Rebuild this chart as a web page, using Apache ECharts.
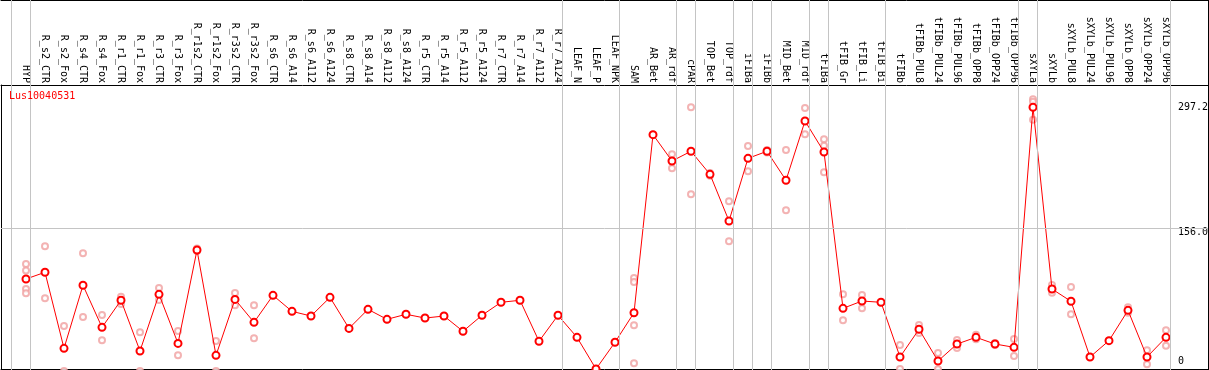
<!DOCTYPE html>
<html>
<head>
<meta charset="utf-8">
<script src="https://cdn.jsdelivr.net/npm/echarts@6.0.0/dist/echarts.min.js"></script>
<style>
  html, body { margin: 0; padding: 0; background: #fff; }
  #chart { width: 1209px; height: 370px; }
</style>
</head>
<body>
<div id="chart"></div>
<script>
const categories = [
  'HYP','R_s2_CTR','R_s2_Fox','R_s4_CTR','R_s4_Fox','R_r1_CTR','R_r1_Fox','R_r3_CTR','R_r3_Fox',
  'R_r1s2_CTR','R_r1s2_Fox','R_r3s2_CTR','R_r3s2_Fox','R_s6_CTR','R_s6_A14','R_s6_A112','R_s6_A124',
  'R_s8_CTR','R_s8_A14','R_s8_A112','R_s8_A124','R_r5_CTR','R_r5_A14','R_r5_A112','R_r5_A124',
  'R_r7_CTR','R_r7_A14','R_r7_A112','R_r7_A124','LEAF_N','LEAF_P','LEAF_NPK','SAM','AR_Bet','AR_rdf',
  'cPAR','TOP_Bet','TOP_rdf','iFIBa','iFIBb','MID_Bet','MID_rdf','tFIBa','tFIB_Gr','tFIB_Li','tFIB_Bi',
  'tFIBb','tFIBb_PUL8','tFIBb_PUL24','tFIBb_PUL96','tFIBb_OPP8','tFIBb_OPP24','tFIBb_OPP96',
  'sXYLa','sXYLb','sXYLb_PUL8','sXYLb_PUL24','sXYLb_PUL96','sXYLb_OPP8','sXYLb_OPP24','sXYLb_OPP96'
];

const meanValues = [
  100.6, 107.9, 24.8, 93.7, 47.7, 77.3, 21.9, 83.8, 30.2,
  132.3, 17.1, 78.3, 53.2, 82.7, 65.2, 60.1, 80.5,
  46.6, 67.4, 56.5, 62.0, 57.9, 60.1, 43.4, 60.9,
  75.1, 77.3, 32.5, 60.9, 36.8, 2.2, 31.4, 63.7, 258.4, 229.6,
  240.2, 215.0, 164.0, 232.5, 240.2, 208.5, 273.3, 239.4, 68.5, 76.5, 75.1,
  15.3, 45.6, 10.9, 29.5, 36.8, 29.5, 25.9,
  288.3, 89.6, 76.2, 15.3, 33.2, 66.3, 15.3, 36.8
];

const replicateValues = [
  [117, 110, 89.6, 84.9], [136.3, 79.5], [49.2, 0], [128.6, 59], [61.2, 33.5], [81.3, 73.2], [42.3, 0], [90.7, 77.6], [43.7, 17.1],
  [133.9, 131.2], [32.8, 0], [85.3, 71.8], [71.8, 35.7], [82.7], [65.2], [60.1], [80.5],
  [46.6], [67.4], [56.5], [62.0], [57.9], [60.1], [43.4], [60.9],
  [75.1], [77.3], [32.5], [60.9], [36.8], [2.2], [31.4], [101.7, 97.3, 50, 8.4], [258.4], [236.9, 221.6],
  [288.3, 193.2], [216.5, 213.5], [185.5, 141.8], [246, 218.3], [241.5, 239], [241.6, 175.7], [287.5, 258.8], [253.3, 246.3, 217.2], [83.8, 55.4], [83.1, 68.5], [75.1],
  [28.4, 2.2], [50.3, 41.5], [19.7, 2], [33.9, 25.1], [39.7, 34.7], [30.5, 28.5], [35, 16.4],
  [297.2, 294.4, 274.7], [94, 85.6], [91.8, 62], [15.3], [33.2], [69.6, 63.7], [22.6, 7.3], [44.5, 27.7]
];

const yLabelValues = [0, 156, 297.2];
const gridLineValue = 156;
const separatorAfter = [-1, 0, 28, 31, 34, 35, 37, 38, 39, 41, 42, 45, 52, 53, 60];

const xMin = -1.3158, xMax = 62.2105, yMax = 405.6;
const FONT = 'DejaVu Sans Mono';

const meanData = meanValues.map((v, i) => [i, v]);
const repData = [];
replicateValues.forEach((arr, i) => arr.forEach(v => repData.push([i, v])));

function frameX(pos, offset) {
  return {
    type: 'value', gridIndex: 0, position: pos, offset: offset, min: xMin, max: xMax,
    axisLine: { show: true, onZero: false, lineStyle: { color: '#000', width: 1 } },
    axisTick: { show: false }, axisLabel: { show: false }, splitLine: { show: false }
  };
}
function labelY(value, vAlign, lineHeight, showLine) {
  return {
    type: 'value', gridIndex: 0, position: 'right', min: 0, max: yMax,
    axisLine: { show: showLine, onZero: false, lineStyle: { color: '#000', width: 1 } },
    axisTick: { show: false }, splitLine: { show: false },
    axisLabel: {
      inside: true, align: 'left', margin: 30, verticalAlign: vAlign, lineHeight: lineHeight,
      customValues: [value],
      formatter: v => (v === 0 ? '0' : v.toFixed(1)),
      fontSize: 10, color: '#000', fontFamily: FONT
    }
  };
}

const chart = echarts.init(document.getElementById('chart'), null, { renderer: 'canvas' });
chart.setOption({
  animation: false,
  backgroundColor: '#fff',
  textStyle: { fontFamily: FONT },
  title: {
    text: 'Lus10040531', left: 9, top: 91, padding: 0,
    textStyle: { color: '#ff0000', fontSize: 10, fontWeight: 'normal', fontFamily: FONT }
  },
  grid: [
    { left: 1, right: 1, top: 0, bottom: -1, containLabel: false, outerBoundsMode: 'none' },
    { left: 1, right: 1, top: 85, bottom: 1, containLabel: false, outerBoundsMode: 'none' }
  ],
  xAxis: [
    {
      type: 'value', gridIndex: 0, position: 'top', offset: -85, min: xMin, max: xMax,
      axisLine: { show: true, onZero: false, lineStyle: { color: '#000', width: 1 } },
      axisTick: { show: false }, splitLine: { show: false },
      axisLabel: {
        customValues: categories.map((c, i) => i),
        formatter: v => categories[Math.round(v)],
        rotate: 90, margin: 2, fontSize: 10, color: '#000', fontFamily: FONT
      }
    },
    frameX('top', 0),
    frameX('bottom', -2),
    {
      type: 'value', gridIndex: 1, min: 0, max: 1, show: false
    }
  ],
  yAxis: [
    labelY(yLabelValues[1], 'top', 8, true),
    labelY(yLabelValues[2], 'top', 16, false),
    labelY(yLabelValues[0], 'bottom', 19, false),
    {
      type: 'value', gridIndex: 1, position: 'left', min: 0, max: 1,
      axisLine: { show: true, onZero: false, lineStyle: { color: '#000', width: 1 } },
      axisTick: { show: false }, axisLabel: { show: false }, splitLine: { show: false }
    }
  ],
  series: [
    {
      type: 'scatter', xAxisIndex: 0, yAxisIndex: 0, z: 2,
      data: repData, symbol: 'emptyCircle', symbolSize: 6, clip: false,
      itemStyle: { color: '#f0a0a0', borderColor: '#f0a0a0', borderWidth: 1 },
      markLine: {
        silent: true, symbol: 'none', animation: false,
        label: { show: false },
        lineStyle: { color: '#c4c4c4', type: 'solid', width: 1 },
        data: separatorAfter.map(i => ({ xAxis: i + 4.5 / 19 })).concat([{ yAxis: gridLineValue }])
      }
    },
    {
      type: 'line', xAxisIndex: 0, yAxisIndex: 0, z: 3,
      data: meanData, symbol: 'emptyCircle', symbolSize: 7, showAllSymbol: true, clip: false,
      lineStyle: { color: '#ff0000', width: 1 },
      itemStyle: { color: '#ff0000', borderColor: '#ff0000', borderWidth: 1.5 }
    }
  ]
});
</script>
</body>
</html>
